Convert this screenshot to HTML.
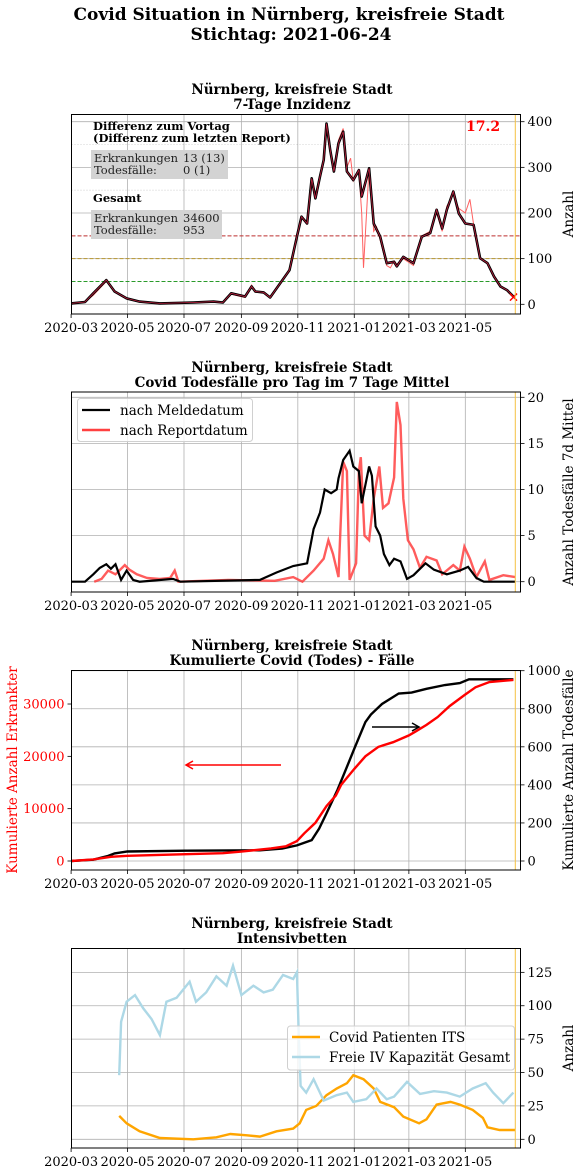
<!DOCTYPE html>
<html><head><meta charset="utf-8">
<style>
html,body{margin:0;padding:0;background:#fff;}
svg{display:block;font-family:"DejaVu Serif","Liberation Serif",serif;}
</style></head>
<body>
<svg id="chart" width="583" height="1173" viewBox="0 0 583 1173" xmlns="http://www.w3.org/2000/svg">
<text x="289" y="20" font-size="17" font-weight="bold" text-anchor="middle">Covid Situation in Nürnberg, kreisfreie Stadt</text>
<text x="291" y="40" font-size="17" font-weight="bold" text-anchor="middle">Stichtag: 2021-06-24</text>
</svg>
<script>
// ---------- DATA ----------
const xTickLabels = ["2020-03","2020-05","2020-07","2020-09","2020-11","2021-01","2021-03","2021-05"];
const xTickDays = [0,61,122,184,245,306,365,426];
const todayDay = 480;

const incDays = [0,15,24,38,47,60,74,96,132,154,164,173,188,195,199,208,215,226,236,244,249,255,260,264,269,273,276,280,284,289,294,298,305,311,314,322,327,334,341,349,352,359,370,379,388,395,401,406,413,419,426,435,442,450,457,464,471,478];
const incVals = [2,5,24,53,28,13,6,2,4,6,4,24,17,39,28,26,15,46,75,148,192,177,276,232,280,316,396,338,291,353,378,291,272,294,236,298,177,148,90,93,83,104,90,148,156,207,166,207,247,199,177,174,101,90,61,39,31,17];
const incRedDays = [0,15,24,38,47,60,74,96,132,154,164,173,188,195,199,208,215,226,236,244,249,255,260,264,269,273,276,280,284,289,294,298,302,305,311,314,316,322,327,330,334,341,345,349,352,359,370,379,388,395,401,406,413,419,426,431,435,442,450,457,464,471,478];
const incRedVals = [2,5,20,50,30,13,6,2,4,6,4,22,15,42,26,26,15,44,78,150,190,180,270,240,285,320,390,330,300,360,385,300,320,270,290,200,80,300,160,170,140,85,80,95,88,100,85,150,160,200,160,215,240,210,200,230,175,100,92,60,38,30,15];
const incCases = "13 (13)", incDeaths = "0 (1)", totCases = "34600", totDeaths = "953", incToday = "17.2";

const dMeldDays = [0,15,24,31,38,43,48,54,60,67,74,110,118,204,222,240,255,262,269,274,281,287,289,294,301,305,311,314,322,325,329,334,338,344,349,356,363,370,383,392,406,420,429,438,446,480];
const dMeldVals = [0,0,0.8,1.5,1.9,1.4,1.9,0.2,1.2,0.2,0,0.3,0,0.2,1.0,1.7,2.0,5.7,7.5,10,9.6,10,11.2,13.2,14.2,12.5,12,8.5,12.5,11.5,6.0,5,3.0,1.8,2.5,2.2,0.3,0.7,2,1.3,0.8,1.2,1.6,0.4,0,0];
const dRepDays = [25,33,40,48,58,63,71,82,96,107,112,116,170,220,240,250,262,273,278,283,289,294,298,301,308,311,313,317,322,327,333,337,343,349,352,356,359,364,370,377,384,395,401,413,420,425,431,438,447,452,467,480];
const dRepVals = [0,0.3,1.2,0.8,1.8,1.3,0.8,0.4,0.3,0.4,1.2,0,0.2,0.1,0.5,0,1.2,2.5,4.5,3,0.5,13,12,0.2,2,12,13.5,5,4.5,9,12.5,8,8.5,11.3,19.5,17,9,4.5,3.5,1.5,2.7,2.3,0.8,1.8,1.2,3.8,2.5,0.5,2.2,0.2,0.7,0.5];

const cumCaseDays = [0,24,43,61,124,164,184,216,232,244,252,264,276,286,292,306,318,332,348,365,372,384,396,409,425,437,452,478];
const cumCaseVals = [0,300,800,1000,1300,1500,1800,2400,2800,3800,5300,7300,10500,12500,14600,17600,20000,21800,22700,24000,24700,26000,27500,29600,31700,33200,34200,34600];
const cumDeathDays = [0,24,39,47,61,124,204,228,244,260,268,276,288,296,306,318,324,336,354,368,384,404,420,430,478];
const cumDeathVals = [0,7,25,40,50,54,56,65,82,110,170,250,375,470,590,730,770,825,880,885,905,925,935,955,955];
const leftTicks3 = [0,10000,20000,30000];
const rightTicks3 = [0,200,400,600,800,1000];

const itsDays = [52,60,74,96,132,157,172,190,204,222,240,247,254,265,276,287,298,305,316,327,334,349,359,376,384,395,410,420,434,445,450,463,480];
const itsVals = [17.5,12,6,1,0,1.5,4,3,2,6,8,12,22,25,33,38,42,48,45,38,28,24,17,12,15,26,28,26,22,16,9,7,7];
const freeDays = [52,54,60,69,78,87,96,103,114,128,135,146,157,168,175,184,197,208,218,229,240,244,246,248,254,262,273,287,298,305,319,330,341,349,363,377,392,406,420,434,448,456,467,478];
const freeVals = [48,88,103,108,98,90,78,103,106,118,103,110,122,115,130,108,115,110,112,123,120,125,80,40,35,45,29,33,35,28,30,38,30,32,43,34,36,35,32,38,42,35,27,35];

// ---------- LAYOUT ----------
const svg = document.getElementById('chart');
const NS = 'http://www.w3.org/2000/svg';
const X0 = 71.5, X1 = 520.5;
const pxDay = 0.9254, day0x = 71.1;
function xDay(d){ return day0x + d*pxDay; }
function mk(tag, attrs, parent){
  const e = document.createElementNS(NS, tag);
  for (const k in attrs) e.setAttribute(k, attrs[k]);
  (parent||svg).appendChild(e); return e;
}
function txt(s, attrs, parent){ const e = mk('text', attrs, parent); e.textContent = s; return e; }
function path(days, vals, yf){
  return days.map((d,i)=>(i?'L':'M')+xDay(d).toFixed(1)+','+yf(vals[i]).toFixed(1)).join('');
}
function panel(name, top, bottom, titleTop, title2){
  const g = mk('g', {});
  
  
  const t1 = txt('Nürnberg, kreisfreie Stadt', {x:292, y:titleTop, 'font-size':13.5, 'font-weight':'bold', 'text-anchor':'middle'}, g);
  
  
  const t2 = txt(title2, {x:292, y:titleTop+15, 'font-size':13.5, 'font-weight':'bold', 'text-anchor':'middle'}, g);
  
  
  // vertical grid + x ticks
  xTickDays.forEach((d,i)=>{
    const x = xDay(d);
    if (i>0) mk('line', {x1:x, x2:x, y1:top, y2:bottom, stroke:'#b0b0b0', 'stroke-width':0.8}, g);
    mk('line', {x1:x, x2:x, y1:bottom, y2:bottom+4, stroke:'#000', 'stroke-width':0.8}, g);
    const l = txt(xTickLabels[i], {x:x, y:bottom+18, 'font-size':13, 'text-anchor':'middle'}, g);
    
    
  });
  return g;
}
function frame(g, top, bottom){
  mk('line', {x1:xDay(todayDay), x2:xDay(todayDay), y1:top, y2:bottom, stroke:'#f5c242', 'stroke-width':1}, g);
  const r = mk('rect', {x:X0, y:top, width:X1-X0, height:bottom-top, fill:'none', stroke:'#000', 'stroke-width':1}, g);
  
  
}
function rightTicks(g, ticks, yf, fmt){
  ticks.forEach(v=>{
    const y = yf(v);
    mk('line', {x1:X0, x2:X1, y1:y, y2:y, stroke:'#b0b0b0', 'stroke-width':0.8}, g);
    mk('line', {x1:X1, x2:X1+4, y1:y, y2:y, stroke:'#000', 'stroke-width':0.8}, g);
    const l = txt(fmt?fmt(v):String(v), {x:X1+7, y:y+4.5, 'font-size':13}, g);
    
    
  });
}
function rightTitle(g, s, cy){
  const l = txt(s, {x:0, y:0, 'font-size':13.5, 'text-anchor':'middle', transform:`translate(573,${cy}) rotate(-90)`}, g);
  
  
}

// ---------- PANEL 1 ----------
(function(){
  const top=114.5, bottom=314;
  const y = v => 304.3 - v*0.4565;
  const g = panel('incidence-panel', top, bottom, 94, '7-Tage Inzidenz');
  [50,150,250,350].forEach(v=>mk('line', {x1:X0,x2:X1,y1:y(v),y2:y(v),stroke:'#c8c8c8','stroke-width':0.8,'stroke-dasharray':'1,2'}, g));
  rightTicks(g, [0,100,200,300,400], y);
  mk('line', {x1:X0,x2:X1,y1:y(50),y2:y(50),stroke:'#2a9a2a','stroke-width':1,'stroke-dasharray':'4,2'}, g);
  mk('line', {x1:X0,x2:X1,y1:y(100),y2:y(100),stroke:'#b8962e','stroke-width':1,'stroke-dasharray':'4,2'}, g);
  mk('line', {x1:X0,x2:X1,y1:y(150),y2:y(150),stroke:'#c03030','stroke-width':1,'stroke-dasharray':'4,2'}, g);
  const red = mk('path', {d:path(incRedDays, incRedVals, y), fill:'none', stroke:'#ff6060', 'stroke-width':1}, g);
  
  
  const blk = mk('path', {d:path(incDays, incVals, y), fill:'none', stroke:'#000', 'stroke-width':2.6, 'stroke-linejoin':'round'}, g);
  
  
  mk('path', {d:path(incDays, incVals, y), fill:'none', stroke:'#c02040', 'stroke-width':0.8}, g);
  const lx = xDay(incDays[incDays.length-1]), ly = y(incVals[incVals.length-1]);
  const mkx = txt('×', {x:lx, y:ly+5, 'font-size':14, 'font-weight':'bold', fill:'red', 'text-anchor':'middle'}, g);
  
  
  frame(g, top, bottom);
  const it = txt(incToday, {x:466, y:131, 'font-size':14, 'font-weight':'bold', fill:'red'}, g);
  
  
  const info = [
    ['Differenz zum Vortag', 93, 130, true], ['(Differenz zum letzten Report)', 93, 142, true],
    ['Gesamt', 93, 202, true]];
  mk('rect', {x:91, y:150, width:137, height:29, fill:'#d3d3d3'}, g);
  mk('rect', {x:91, y:210, width:131, height:29, fill:'#d3d3d3'}, g);
  info.forEach(a=>{ const l = txt(a[0], {x:a[1], y:a[2], 'font-size':11.5, 'font-weight':'bold'}, g);
    
     });
  [['Erkrankungen',94,162],['Todesfälle:',94,174],['Erkrankungen',94,222],['Todesfälle:',94,234],
   [incCases,183,162],[incDeaths,183,174],[totCases,183,222],[totDeaths,183,234]].forEach(a=>{
    const l = txt(a[0], {x:a[1], y:a[2], 'font-size':11.5, fill:'#222'}, g);
    
    
  });
  rightTitle(g, 'Anzahl', 214);
})();

// ---------- PANEL 2 ----------
(function(){
  const top=392, bottom=592;
  const y = v => 581.7 - v*9.22;
  const g = panel('deaths-panel', top, bottom, 372, 'Covid Todesfälle pro Tag im 7 Tage Mittel');
  rightTicks(g, [0,5,10,15,20], y);
  const r = mk('path', {d:path(dRepDays, dRepVals, y), fill:'none', stroke:'#ff4040', 'stroke-opacity':0.85, 'stroke-width':2.4}, g);
  
  
  const b = mk('path', {d:path(dMeldDays, dMeldVals, y), fill:'none', stroke:'#000', 'stroke-width':2.2}, g);
  
  
  frame(g, top, bottom);
  const lg = mk('g', {}, g);
  
  
  mk('rect', {x:77.5, y:398.5, width:175, height:43, rx:3, fill:'#fff', 'fill-opacity':0.8, stroke:'#d0d0d0'}, lg);
  mk('line', {x1:82, x2:110, y1:410, y2:410, stroke:'#000', 'stroke-width':2.2}, lg);
  mk('line', {x1:82, x2:110, y1:430, y2:430, stroke:'#ff4040', 'stroke-width':2.4}, lg);
  txt('nach Meldedatum', {x:120, y:415, 'font-size':13.5}, lg);
  txt('nach Reportdatum', {x:120, y:435, 'font-size':13.5}, lg);
  rightTitle(g, 'Anzahl Todesfälle 7d Mittel', 492);
})();

// ---------- PANEL 3 ----------
(function(){
  const top=670.5, bottom=870;
  const yL = v => 861 - v*0.005233;
  const yR = v => 861 - v*0.1903;
  const g = panel('cumulative-panel', top, bottom, 650, 'Kumulierte Covid (Todes) - Fälle');
  rightTicks(g, rightTicks3, yR);
  leftTicks3.forEach(v=>{
    const y = yL(v);
    mk('line', {x1:X0-4, x2:X0, y1:y, y2:y, stroke:'#000', 'stroke-width':0.8}, g);
    const l = txt(String(v), {x:X0-7, y:y+4.5, 'font-size':13, fill:'red', 'text-anchor':'end'}, g);
    
    
  });
  const b = mk('path', {d:path(cumDeathDays, cumDeathVals, yR), fill:'none', stroke:'#000', 'stroke-width':2.4}, g);
  
  
  const r = mk('path', {d:path(cumCaseDays, cumCaseVals, yL), fill:'none', stroke:'#f00', 'stroke-width':2.4}, g);
  
  
  const a1 = mk('g', {}, g);
  
  
  mk('line', {x1:372, x2:418, y1:727, y2:727, stroke:'#000', 'stroke-width':1.5}, a1);
  mk('path', {d:'M412,723 L419,727 L412,731', fill:'none', stroke:'#000', 'stroke-width':1.5}, a1);
  const a2 = mk('g', {}, g);
  
  
  mk('line', {x1:186, x2:281, y1:765, y2:765, stroke:'#f00', 'stroke-width':1.5}, a2);
  mk('path', {d:'M193,761 L186,765 L193,769', fill:'none', stroke:'#f00', 'stroke-width':1.5}, a2);
  frame(g, top, bottom);
  rightTitle(g, 'Kumulierte Anzahl Todesfälle', 770);
  const lt = txt('Kumulierte Anzahl Erkrankter', {x:0, y:0, 'font-size':13.5, fill:'red', 'text-anchor':'middle', transform:'translate(17,770) rotate(-90)'}, g);
  
  
})();

// ---------- PANEL 4 ----------
(function(){
  const top=948.5, bottom=1148;
  const y = v => 1139.3 - v*1.3356;
  const g = panel('icu-panel', top, bottom, 928, 'Intensivbetten');
  rightTicks(g, [0,25,50,75,100,125], y);
  const o = mk('path', {d:path(itsDays, itsVals, y), fill:'none', stroke:'#ffa500', 'stroke-width':2.4}, g);
  
  
  const b = mk('path', {d:path(freeDays, freeVals, y), fill:'none', stroke:'#add8e6', 'stroke-width':2.4}, g);
  
  
  frame(g, top, bottom);
  const lg = mk('g', {}, g);
  
  
  mk('rect', {x:287.5, y:1026, width:227, height:44, rx:3, fill:'#fff', 'fill-opacity':0.8, stroke:'#d0d0d0'}, lg);
  mk('line', {x1:292, x2:320, y1:1037, y2:1037, stroke:'#ffa500', 'stroke-width':2.4}, lg);
  mk('line', {x1:292, x2:320, y1:1057, y2:1057, stroke:'#add8e6', 'stroke-width':2.4}, lg);
  txt('Covid Patienten ITS', {x:329, y:1042, 'font-size':13.5}, lg);
  txt('Freie IV Kapazität Gesamt', {x:329, y:1062, 'font-size':13.5}, lg);
  rightTitle(g, 'Anzahl', 1048);
})();
</script>
</body></html>
